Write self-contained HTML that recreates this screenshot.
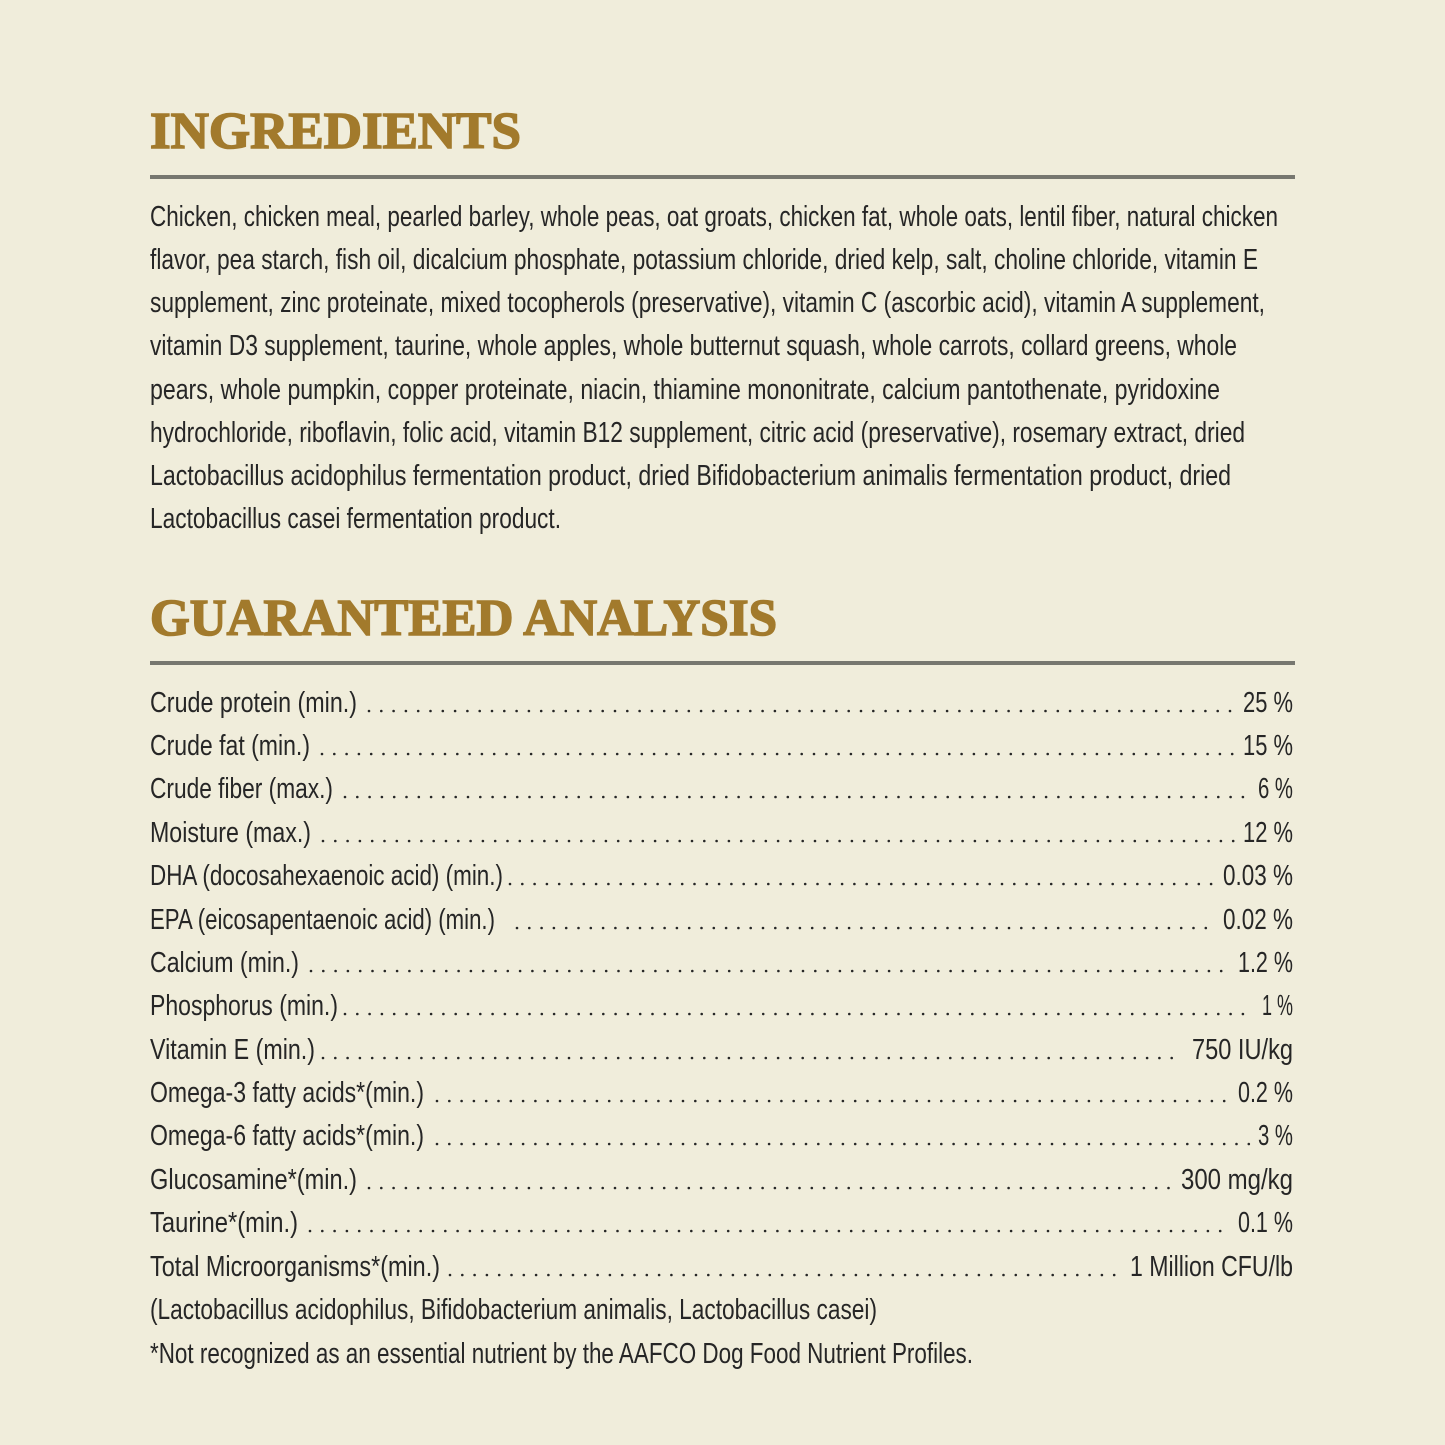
<!DOCTYPE html>
<html><head><meta charset="utf-8"><style>html,body{margin:0;padding:0;background:#f0eddb}svg{display:block}</style></head><body>
<svg width="1445" height="1445" viewBox="0 0 1445 1445" xmlns="http://www.w3.org/2000/svg">
<rect width="1445" height="1445" fill="#f0eddb"/>
<g font-family="Liberation Serif, serif" font-weight="bold" fill="#a27a2c" stroke="#a27a2c" stroke-width="1.6" font-size="52">
<text x="150" y="148" textLength="371" lengthAdjust="spacingAndGlyphs">INGREDIENTS</text>
<text x="150" y="635" textLength="627" lengthAdjust="spacingAndGlyphs">GUARANTEED ANALYSIS</text>
</g>
<rect x="150" y="175" width="1145" height="4" fill="#77776f"/>
<rect x="150" y="661" width="1145" height="4" fill="#77776f"/>
<g font-family="Liberation Sans, sans-serif" fill="#262626" font-size="29">
<text x="150" y="226" textLength="1128" lengthAdjust="spacingAndGlyphs">Chicken, chicken meal, pearled barley, whole peas, oat groats, chicken fat, whole oats, lentil fiber, natural chicken</text>
<text x="150" y="269" textLength="1108" lengthAdjust="spacingAndGlyphs">flavor, pea starch, fish oil, dicalcium phosphate, potassium chloride, dried kelp, salt, choline chloride, vitamin E</text>
<text x="150" y="312" textLength="1115" lengthAdjust="spacingAndGlyphs">supplement, zinc proteinate, mixed tocopherols (preservative), vitamin C (ascorbic acid), vitamin A supplement,</text>
<text x="150" y="355" textLength="1087" lengthAdjust="spacingAndGlyphs">vitamin D3 supplement, taurine, whole apples, whole butternut squash, whole carrots, collard greens, whole</text>
<text x="150" y="399" textLength="1070" lengthAdjust="spacingAndGlyphs">pears, whole pumpkin, copper proteinate, niacin, thiamine mononitrate, calcium pantothenate, pyridoxine</text>
<text x="150" y="442" textLength="1095" lengthAdjust="spacingAndGlyphs">hydrochloride, riboflavin, folic acid, vitamin B12 supplement, citric acid (preservative), rosemary extract, dried</text>
<text x="150" y="485" textLength="1081" lengthAdjust="spacingAndGlyphs">Lactobacillus acidophilus fermentation product, dried Bifidobacterium animalis fermentation product, dried</text>
<text x="150" y="528" textLength="411" lengthAdjust="spacingAndGlyphs">Lactobacillus casei fermentation product.</text>

<text x="150" y="712" textLength="207" lengthAdjust="spacingAndGlyphs">Crude protein (min.)</text>
<text x="150" y="755" textLength="160" lengthAdjust="spacingAndGlyphs">Crude fat (min.)</text>
<text x="150" y="798" textLength="183" lengthAdjust="spacingAndGlyphs">Crude fiber (max.)</text>
<text x="150" y="842" textLength="161" lengthAdjust="spacingAndGlyphs">Moisture (max.)</text>
<text x="150" y="885" textLength="353" lengthAdjust="spacingAndGlyphs">DHA (docosahexaenoic acid) (min.)</text>
<text x="150" y="929" textLength="345" lengthAdjust="spacingAndGlyphs">EPA (eicosapentaenoic acid) (min.)</text>
<text x="150" y="972" textLength="149" lengthAdjust="spacingAndGlyphs">Calcium (min.)</text>
<text x="150" y="1015" textLength="188" lengthAdjust="spacingAndGlyphs">Phosphorus (min.)</text>
<text x="150" y="1059" textLength="165" lengthAdjust="spacingAndGlyphs">Vitamin E (min.)</text>
<text x="150" y="1102" textLength="274" lengthAdjust="spacingAndGlyphs">Omega-3 fatty acids*(min.)</text>
<text x="150" y="1145" textLength="274" lengthAdjust="spacingAndGlyphs">Omega-6 fatty acids*(min.)</text>
<text x="150" y="1189" textLength="207" lengthAdjust="spacingAndGlyphs">Glucosamine*(min.)</text>
<text x="150" y="1232" textLength="148" lengthAdjust="spacingAndGlyphs">Taurine*(min.)</text>
<text x="150" y="1276" textLength="290" lengthAdjust="spacingAndGlyphs">Total Microorganisms*(min.)</text>
<text x="150" y="1319" textLength="727" lengthAdjust="spacingAndGlyphs">(Lactobacillus acidophilus, Bifidobacterium animalis, Lactobacillus casei)</text>
<text x="150" y="1363" textLength="823" lengthAdjust="spacingAndGlyphs">*Not recognized as an essential nutrient by the AAFCO Dog Food Nutrient Profiles.</text>

<text x="1243" y="712" textLength="50" lengthAdjust="spacingAndGlyphs">25 %</text>
<text x="1243" y="755" textLength="50" lengthAdjust="spacingAndGlyphs">15 %</text>
<text x="1258" y="798" textLength="35" lengthAdjust="spacingAndGlyphs">6 %</text>
<text x="1243" y="842" textLength="50" lengthAdjust="spacingAndGlyphs">12 %</text>
<text x="1223" y="885" textLength="70" lengthAdjust="spacingAndGlyphs">0.03 %</text>
<text x="1223" y="929" textLength="70" lengthAdjust="spacingAndGlyphs">0.02 %</text>
<text x="1238" y="972" textLength="55" lengthAdjust="spacingAndGlyphs">1.2 %</text>
<text x="1262" y="1015" textLength="31" lengthAdjust="spacingAndGlyphs">1 %</text>
<text x="1192" y="1059" textLength="101" lengthAdjust="spacingAndGlyphs">750 IU/kg</text>
<text x="1238" y="1102" textLength="55" lengthAdjust="spacingAndGlyphs">0.2 %</text>
<text x="1258" y="1145" textLength="35" lengthAdjust="spacingAndGlyphs">3 %</text>
<text x="1181" y="1189" textLength="112" lengthAdjust="spacingAndGlyphs">300 mg/kg</text>
<text x="1238" y="1232" textLength="55" lengthAdjust="spacingAndGlyphs">0.1 %</text>
<text x="1130" y="1276" textLength="163" lengthAdjust="spacingAndGlyphs">1 Million CFU/lb</text>
</g>
<g stroke="#262626" stroke-width="2.6" stroke-linecap="round" stroke-dasharray="0 12.3" fill="none">
<line x1="369" y1="711" x2="1238" y2="711"/>
<line x1="322" y1="754" x2="1238" y2="754"/>
<line x1="345" y1="797" x2="1253" y2="797"/>
<line x1="323" y1="841" x2="1238" y2="841"/>
<line x1="510" y1="884" x2="1218" y2="884"/>
<line x1="517" y1="928" x2="1218" y2="928"/>
<line x1="311" y1="971" x2="1230" y2="971"/>
<line x1="345" y1="1014" x2="1255" y2="1014"/>
<line x1="323" y1="1058" x2="1182" y2="1058"/>
<line x1="437" y1="1101" x2="1230" y2="1101"/>
<line x1="437" y1="1144" x2="1253" y2="1144"/>
<line x1="369" y1="1188" x2="1172" y2="1188"/>
<line x1="310" y1="1231" x2="1230" y2="1231"/>
<line x1="450" y1="1275" x2="1125" y2="1275"/>
</g>
</svg>
</body></html>
